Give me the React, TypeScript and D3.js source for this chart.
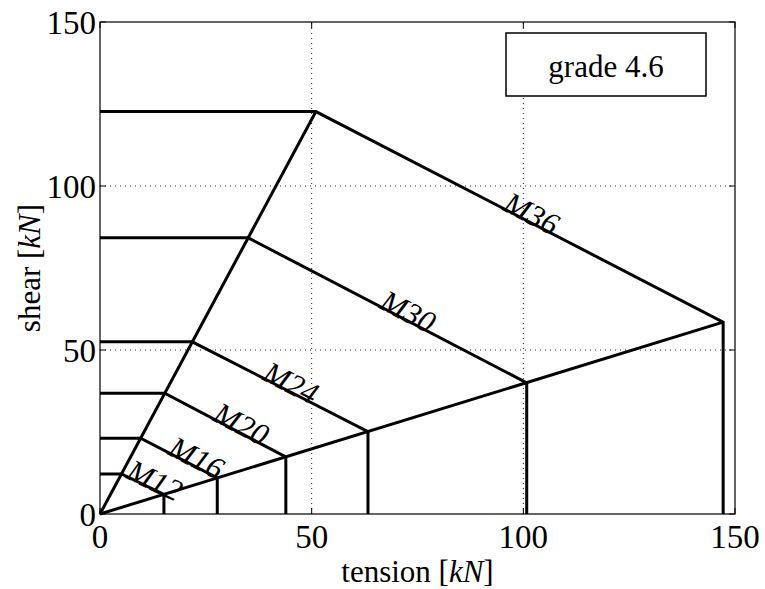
import React from "react";
import * as d3 from "d3";

const bolts = ["M12", "M16", "M20", "M24", "M30", "M36"];
const shearCap = [12.2, 23.1, 36.8, 52.5, 84.2, 122.7];
const peakTension = [5.1, 9.6, 15.3, 21.8, 35.0, 51.0];
const tensionCap = [15.1, 27.7, 43.9, 63.3, 100.8, 147.2];
const endShear = [6.0, 11.0, 17.4, 25.1, 40.0, 58.5];
const xTicks = [0, 50, 100, 150];
const yTicks = [0, 50, 100, 150];
const gridVals = [50, 100];
const labelFrac = [0.7, 0.68, 0.6, 0.54, 0.56, 0.52];
const gradeText = "grade 4.6";

const W = 765, H = 589;
const M = { left: 100, right: 30, top: 22, bottom: 75 };
const FONT = "'Liberation Serif', 'Times New Roman', serif";

export default function App() {
  const x = d3.scaleLinear().domain([0, 150]).range([M.left, W - M.right]);
  const y = d3.scaleLinear().domain([0, 150]).range([H - M.bottom, M.top]);
  const line = d3.line<[number, number]>().x(d => x(d[0])).y(d => y(d[1]));
  const n = bolts.length - 1;
  const x0 = x(0), x1 = x(150), y0 = y(0), y1 = y(150);
  const SW = 3;

  return (
    <svg width={W} height={H} style={{ position: "absolute", left: 0, top: 0, background: "#fff" }} fontFamily={FONT}>
      {gridVals.map(v => (
        <g key={"g" + v}>
          <line x1={x(v)} x2={x(v)} y1={y0} y2={y1} stroke="#222" strokeWidth={1} strokeDasharray="1,4" />
          <line x1={x0} x2={x1} y1={y(v)} y2={y(v)} stroke="#222" strokeWidth={1} strokeDasharray="1,4" />
        </g>
      ))}
      {xTicks.map(v => (
        <g key={"xt" + v}>
          <line x1={x(v)} x2={x(v)} y1={y0} y2={y0 - 6} stroke="#000" />
          <line x1={x(v)} x2={x(v)} y1={y1} y2={y1 + 6} stroke="#000" />
          <text x={x(v)} y={y0 + 34} textAnchor="middle" fontSize={33}>{v}</text>
        </g>
      ))}
      {yTicks.map(v => (
        <g key={"yt" + v}>
          <line x1={x0} x2={x0 + 6} y1={y(v)} y2={y(v)} stroke="#000" />
          <line x1={x1} x2={x1 - 6} y1={y(v)} y2={y(v)} stroke="#000" />
          <text x={x0 - 4} y={y(v) + 12} textAnchor="end" fontSize={33}>{v}</text>
        </g>
      ))}
      <rect x={x0} y={y1} width={x1 - x0} height={y0 - y1} fill="none" stroke="#000" strokeWidth={1.2} />
      <path d={line([[0, 0], [peakTension[n], shearCap[n]]]) || ""} fill="none" stroke="#000" strokeWidth={SW} />
      <path d={line([[0, 0], [tensionCap[n], endShear[n]]]) || ""} fill="none" stroke="#000" strokeWidth={SW} />
      {bolts.map((b, i) => {
        const pts: [number, number][] = [
          [0, shearCap[i]],
          [peakTension[i], shearCap[i]],
          [tensionCap[i], endShear[i]],
          [tensionCap[i], 0],
        ];
        const ax = x(peakTension[i]), ay = y(shearCap[i]);
        const bx = x(tensionCap[i]), by = y(endShear[i]);
        const t = labelFrac[i];
        const lx = ax + (bx - ax) * t, ly = ay + (by - ay) * t;
        const ang = (Math.atan2(by - ay, bx - ax) * 180) / Math.PI;
        return (
          <g key={b}>
            <path d={line(pts) || ""} fill="none" stroke="#000" strokeWidth={SW} strokeLinejoin="miter" />
            <text transform={`translate(${lx},${ly}) rotate(${ang})`} y={2} textAnchor="middle" fontSize={31} fontStyle="italic">{b}</text>
          </g>
        );
      })}
      <rect x={506} y={33} width={200} height={63} fill="#fff" stroke="#000" strokeWidth={1.5} />
      <text x={606} y={77} textAnchor="middle" fontSize={31}>{gradeText}</text>
      <text x={(x0 + x1) / 2} y={582} textAnchor="middle" fontSize={31}>
        tension [<tspan fontStyle="italic">kN</tspan>]
      </text>
      <text transform={`translate(40,${(y0 + y1) / 2}) rotate(-90)`} textAnchor="middle" fontSize={31}>
        shear [<tspan fontStyle="italic">kN</tspan>]
      </text>
    </svg>
  );
}
